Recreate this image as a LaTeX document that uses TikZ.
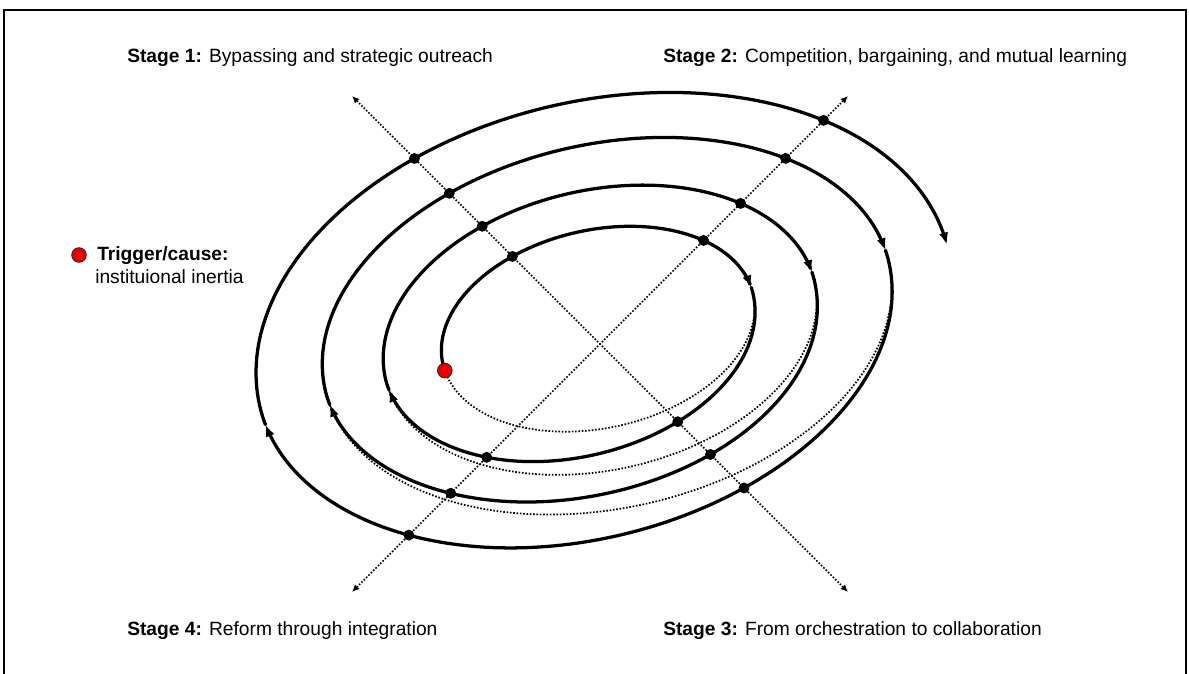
\documentclass[tikz,border=0pt]{standalone}
\usepackage{fontspec}
\setmainfont{Liberation Sans}
\usetikzlibrary{arrows.meta,intersections,calc}

% tilt of the ellipses (12.7 degrees)
\def\ct{0.97553}
\def\st{0.21985}
% ring parameters: centre x, centre y, semi-axes A and B
\def\rcxa{598}\def\rcya{329}\def\rAa{159}\def\rBa{99}
\def\rcxb{600}\def\rcyb{330}\def\rAb{220}\def\rBb{140}
\def\rcxc{607}\def\rcyc{326}\def\rAc{289}\def\rBc{182}
\def\rcxd{604}\def\rcyd{328}\def\rAd{353}\def\rBd{228}
% parameter #1 blended from ring #2 to ring #3 over the lower half-turn
\newcommand\rp[3]{(\csname r#1#2\endcsname+(\csname r#1#3\endcsname-\csname r#1#2\endcsname)*sm(\x))}
\newcommand\sxp[2]{(\rp{cx}{#1}{#2}+\rp{A}{#1}{#2}*cos(\x)*\ct-\rp{B}{#1}{#2}*sin(\x)*\st)}
\newcommand\syp[2]{(\rp{cy}{#1}{#2}-(\rp{A}{#1}{#2}*cos(\x)*\st+\rp{B}{#1}{#2}*sin(\x)*\ct))}
% piece of the spiral from ring #1 towards ring #2, angles #3 to #4
\newcommand\turn[4]{plot[domain=#3:#4,samples=120] ({\sxp{#1}{#2}},{\syp{#1}{#2}})}
% the same piece, shrunk 20 times about (600,340), for the crossing search
\newcommand\turnS[4]{plot[domain=#3:#4,samples=120] ({(\sxp{#1}{#2}-600)/20},{(\syp{#1}{#2}-340)/20})}

\definecolor{dotred}{RGB}{232,0,0}

\begin{document}
\begin{tikzpicture}[x=0.75pt,y=-0.75pt,
  declare function={sm(\p)=min(1,max(0,-\p/180))*min(1,max(0,-\p/180))*(3-2*min(1,max(0,-\p/180)));},
  spiral/.style={line width=2.45pt,line cap=round,-{Latex[length=9pt,width=7pt]}},
  closure/.style={line width=1.3pt,dash pattern=on 1.2pt off 1.3pt},
  axisline/.style={line width=1.3pt,dash pattern=on 1.2pt off 1.3pt,
    {Latex[length=5.5pt,width=5pt]}-{Latex[length=5.5pt,width=5pt]}},
  reddot/.style={circle,fill=dotred,draw=black!85,line width=0.6pt,
    minimum size=11pt,inner sep=0pt},
  lab/.style={anchor=base west,inner sep=0pt,font=\fontsize{14.4}{17}\selectfont}]

\useasboundingbox (0,0) rectangle (1189,674);

% frame
\draw[line width=2.2pt] (4,674) -- (4,10) -- (1186,10) -- (1186,674);

% dotted closures of the first three rings
\draw[closure] \turn{a}{a}{-176}{0};
\draw[closure] \turn{b}{b}{-180}{0};
\draw[closure] \turn{c}{c}{-180}{0};

% the spiral, drawn piece by piece so the arrow tips sit on the line
\draw[spiral] \turn{a}{b}{184}{4};
\draw[spiral] \turn{a}{b}{4}{-175};
\draw[spiral] \turn{a}{b}{-175}{-180} \turn{b}{c}{180}{4};
\draw[spiral] \turn{b}{c}{4}{-175};
\draw[spiral] \turn{b}{c}{-175}{-180} \turn{c}{d}{180}{4};
\draw[spiral] \turn{c}{d}{4}{-175};
\draw[spiral] \turn{c}{d}{-175}{-180} \turn{d}{d}{180}{1.5};

% diagonal stage axes
\coordinate (ul) at (352,96);
\coordinate (lr) at (848,592);
\coordinate (ll) at (352,592);
\coordinate (ur) at (848,96);
\draw[axisline] (ul) -- (lr);
\draw[axisline] (ll) -- (ur);

% shrunk copies used only to find the crossing points
\path[name path=spiralS] \turnS{a}{b}{184}{-180} \turnS{b}{c}{180}{-180}
  \turnS{c}{d}{180}{-180} \turnS{d}{d}{180}{1.5};
\path[name path=axAS] (-12.4,-12.2) -- (12.4,12.6);
\path[name path=axBS] (-12.4,12.6) -- (12.4,-12.2);

% crossing points
\coordinate (mid) at (600,340);
\fill[name intersections={of=spiralS and axAS,name=pa,total=\ta}]
  \foreach \i in {1,...,\ta} {($(mid)+20*(pa-\i)$) circle[radius=4.1pt]};
\fill[name intersections={of=spiralS and axBS,name=pb,total=\tb}]
  \foreach \i in {1,...,\tb} {($(mid)+20*(pb-\i)$) circle[radius=4.1pt]};

% start of the spiral
\node[reddot] (trigger) at (444.8,370.6) {};

% legend
\node[reddot] (legdot) at (79,255) {};
\node[lab] (legA) at (97,260) {\bfseries Trigger/cause:};
\node[lab] (legB) at (95,283) {instituional inertia};

% stage labels
\node[lab] (s1) at (127,62.5) {\textbf{Stage 1:} Bypassing and strategic outreach};
\node[lab] (s2) at (663,62.5) {\textbf{Stage 2:} Competition, bargaining, and mutual learning};
\node[lab] (s4) at (127,635) {\textbf{Stage 4:} Reform through integration};
\node[lab] (s3) at (663,635) {\textbf{Stage 3:} From orchestration to collaboration};
\end{tikzpicture}
\end{document}
